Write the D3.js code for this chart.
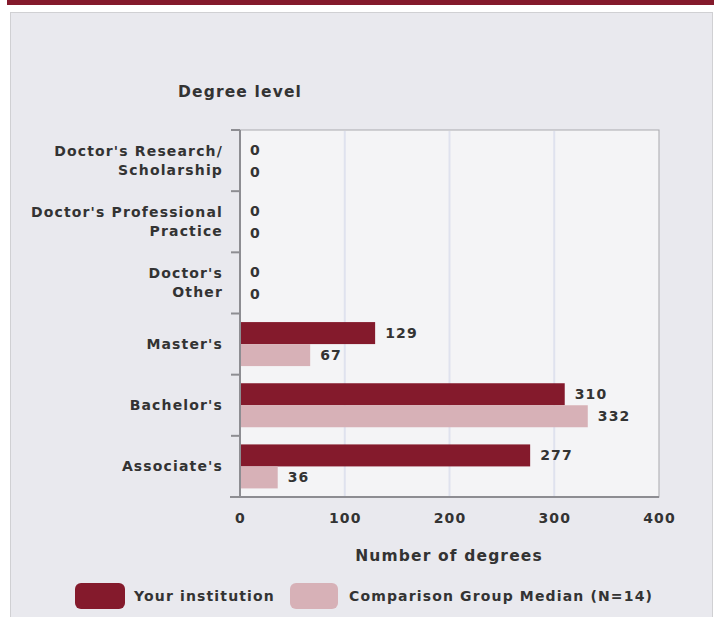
<!DOCTYPE html>
<html><head><meta charset="utf-8">
<script src="https://cdn.jsdelivr.net/npm/d3@7"></script>
<style>body{margin:0;background:#fff;}svg{display:block;font-family:"DejaVu Sans",sans-serif;}text{letter-spacing:1.15px;}</style>
</head><body>
<script>
const categories = [["Doctor's Research/","Scholarship"],["Doctor's Professional","Practice"],["Doctor's","Other"],["Master's"],["Bachelor's"],["Associate's"]];
const seriesNames = ["Your institution","Comparison Group Median (N=14)"];
const yourInstitution = [0,0,0,129,310,277];
const comparisonMedian = [0,0,0,67,332,36];
const xTicks = [0,100,200,300,400];
const colors = ["#841a2c","#d7b1b7"];

const W=721,H=617;
const svg=d3.select("body").append("svg").attr("width",W).attr("height",H);
svg.append("rect").attr("x",7).attr("y",0).attr("width",707).attr("height",5).attr("fill","#841a2c");
svg.append("rect").attr("x",10.5).attr("y",12.5).attr("width",702).attr("height",620).attr("fill","#e9e9ee").attr("stroke","#d0d0d3");

const m={l:240,r:659,t:130,b:497};
const x=d3.scaleLinear().domain([0,400]).range([m.l,m.r]);
const y=d3.scaleBand().domain(d3.range(categories.length)).range([m.t,m.b]);
const inner=d3.scaleBand().domain([0,1]).range([0,y.bandwidth()]).paddingOuter(0.39);

svg.append("rect").attr("x",m.l).attr("y",m.t).attr("width",m.r-m.l).attr("height",m.b-m.t).attr("fill","#f4f4f6").attr("stroke","#a9a9ad");
svg.append("g").selectAll("line").data(xTicks.slice(1,-1)).join("line")
 .attr("x1",d=>x(d)).attr("x2",d=>x(d)).attr("y1",m.t+1).attr("y2",m.b).attr("stroke","#dfe2ee").attr("stroke-width",2);

const series=[yourInstitution,comparisonMedian];
series.forEach((vals,si)=>{
  const g=svg.append("g");
  g.selectAll("rect").data(vals).join("rect")
   .attr("x",x(0)).attr("y",(d,i)=>y(i)+inner(si)).attr("width",d=>x(d)-x(0)).attr("height",inner.bandwidth())
   .attr("fill",colors[si]);
  g.selectAll("text").data(vals).join("text")
   .attr("x",d=>x(d)+10).attr("y",(d,i)=>y(i)+inner(si)+inner.bandwidth()/2+5)
   .attr("font-size",14).attr("font-weight","bold").attr("fill","#333").text(d=>d);
});

const la=svg.append("g");
la.append("line").attr("x1",m.l).attr("x2",m.l).attr("y1",m.t).attr("y2",m.b).attr("stroke","#8d8d92").attr("stroke-width",2);
la.selectAll("line.t").data(d3.range(categories.length+1)).join("line").attr("class","t")
 .attr("x1",m.l-9).attr("x2",m.l).attr("y1",i=>m.t+i*y.step()).attr("y2",i=>m.t+i*y.step()).attr("stroke","#8d8d92").attr("stroke-width",2);
categories.forEach((lines,i)=>{
  const cy=y(i)+y.bandwidth()/2;
  const t=svg.append("text").attr("text-anchor","end").attr("font-size",14).attr("font-weight","bold").attr("fill","#333");
  lines.forEach((ln,j)=>{
    t.append("tspan").attr("x",223).attr("y",cy+5+(j-(lines.length-1)/2)*19).text(ln);
  });
});
const ba=svg.append("g").attr("transform",`translate(0,${m.b})`)
 .call(d3.axisBottom(x).tickValues(xTicks).tickSize(0).tickPadding(16));
ba.select(".domain").remove();
ba.append("line").attr("x1",m.l-10).attr("x2",m.r).attr("y1",0).attr("y2",0).attr("stroke","#8d8d92").attr("stroke-width",2);
ba.selectAll(".tick text").attr("font-size",14).attr("font-weight","bold").attr("fill","#333").attr("font-family","DejaVu Sans");

svg.append("text").attr("x",240).attr("y",97).attr("text-anchor","middle").attr("font-size",15.5).attr("font-weight","bold").attr("fill","#333").text("Degree level");
svg.append("text").attr("x",449).attr("y",561).attr("text-anchor","middle").attr("font-size",15.5).attr("font-weight","bold").attr("fill","#333").text("Number of degrees");

const lg=[{x:75,tx:134},{x:290,tx:349}];
seriesNames.forEach((n,i)=>{
  svg.append("rect").attr("x",lg[i].x).attr("y",583).attr("width",i?48:50).attr("height",26).attr("rx",6).attr("fill",colors[i]);
  svg.append("text").attr("x",lg[i].tx).attr("y",601).attr("font-size",14).attr("font-weight","bold").attr("fill","#333").text(n);
});
</script>
</body></html>
